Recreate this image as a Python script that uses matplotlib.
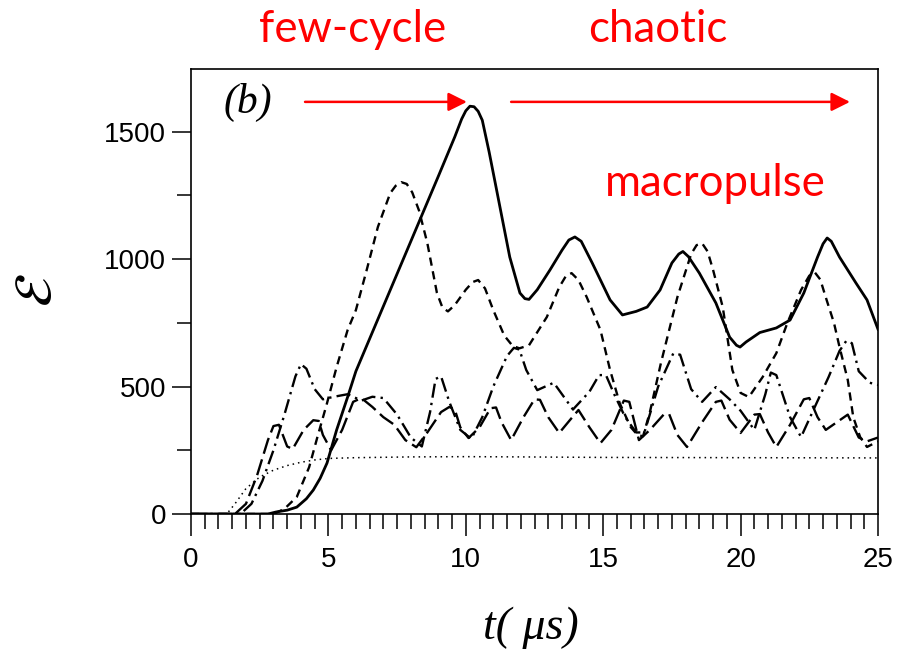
import matplotlib
matplotlib.use('Agg')
import matplotlib.pyplot as plt
from matplotlib.ticker import MultipleLocator

# solid curve
t_solid = [0, 2.8, 3.1, 3.5, 3.85, 4.2, 4.45, 4.7, 4.95, 5.3, 5.7, 6.0, 7.0, 8.0, 9.0, 9.6, 9.85,
           10.0, 10.15, 10.3, 10.45, 10.6, 10.85, 11.1, 11.6, 11.97, 12.15, 12.3, 12.6, 13.06,
           13.5, 13.75, 13.97, 14.2, 14.6, 15.25, 15.7, 16.2, 16.6, 17.07, 17.5, 17.75, 17.9,
           18.1, 18.5, 19.1, 19.6, 19.85, 19.98, 20.2, 20.7, 21.3, 21.8, 22.3, 22.8, 23.0,
           23.15, 23.3, 23.6, 24.2, 24.6, 25.0]
e_solid = [0, 0, 8, 15, 27, 60, 94, 140, 200, 330, 459, 560, 815, 1070, 1325, 1480, 1550,
           1582, 1600, 1598, 1580, 1545, 1420, 1283, 1008, 867, 845, 842, 880, 957,
           1035, 1075, 1087, 1070, 985, 840, 781, 795, 812, 879, 985, 1020, 1030,
           1010, 945, 828, 694, 662, 655, 675, 712, 730, 761, 867, 1008, 1060,
           1083, 1070, 1008, 906, 840, 725]

# short-dash curve
t_dash = [0, 3.0, 3.4, 3.85, 4.3, 4.6, 4.95, 5.3, 5.7, 6.0, 6.4, 6.8, 7.25, 7.45, 7.65, 7.85,
          8.05, 8.3, 8.6, 8.95, 9.15, 9.35, 9.6, 10.0, 10.25, 10.45, 10.7, 11.0, 11.4, 11.7,
          11.95, 12.3, 12.95, 13.4, 13.65, 13.85, 14.1, 14.4, 14.9, 15.25, 15.6, 16.0, 16.25,
          16.45, 16.7, 17.1, 17.7, 18.2, 18.4, 18.6, 18.8, 19.0, 19.35, 19.7, 20.0, 20.3,
          20.8, 21.3, 21.7, 22.2, 22.5, 22.7, 22.9, 23.1, 23.4, 23.6, 23.9, 24.1, 24.35,
          24.6, 25.0]
e_dash = [0, 0, 20, 67, 184, 302, 435, 577, 722, 800, 960, 1126, 1259, 1288, 1302, 1295,
          1262, 1190, 1063, 867, 810, 795, 820, 880, 910, 918, 885, 800, 700, 660,
          650, 662, 773, 890, 935, 945, 918, 851, 722, 565, 435, 341, 310,
          305, 400, 592, 851, 1020, 1055, 1062, 1030, 957, 812, 565, 475, 459,
          537, 631, 749, 879, 935, 948, 920, 850, 749, 655, 526, 380, 302,
          263, 285]

# dash-dot curve
t_dashdot = [0, 1.8, 2.2, 2.6, 3.0, 3.4, 3.8, 4.0, 4.2, 4.5, 4.8, 5.2, 5.7, 6.2, 6.6, 7.0, 7.5,
             8.0, 8.4, 8.7, 8.9, 9.1, 9.4, 9.8, 10.2, 10.6, 11.0, 11.5, 11.75, 11.95, 12.2,
             12.6, 13.2, 13.9, 14.5, 14.85, 15.1, 15.4, 15.8, 16.2, 16.5, 17.0, 17.55, 17.8,
             18.2, 18.6, 19.1, 19.6, 20.0, 20.5, 20.9, 21.1, 21.3, 21.8, 22.2, 22.7, 23.2,
             23.6, 23.85, 24.05, 24.3, 24.7, 25.0]
e_dashdot = [0, 0, 40, 130, 250, 390, 540, 588, 570, 490, 450, 460, 470, 445, 460, 455, 390,
             300, 265, 400, 530, 540, 440, 330, 295, 380, 500, 620, 652, 645, 565,
             486, 515, 410, 480, 545, 545, 470, 380, 320, 320, 500, 630, 625,
             490, 440, 498, 450, 405, 330, 470, 555, 545, 380, 302, 420, 537,
             640, 680, 670, 560, 515, 506]

# long-dash curve
t_longdash = [0, 1.6, 2.0, 2.4, 2.8, 3.0, 3.2, 3.5, 3.7, 4.1, 4.45, 4.65, 4.8, 5.1, 5.5, 5.9,
              6.2, 6.6, 7.0, 7.4, 7.8, 8.2, 8.6, 9.1, 9.4, 9.6, 9.8, 10.1, 10.5, 10.9, 11.1,
              11.3, 11.65, 12.1, 12.5, 12.7, 13.0, 13.4, 13.8, 14.1, 14.5, 14.9, 15.3, 15.75,
              15.95, 16.3, 16.7, 17.2, 17.4, 17.7, 18.05, 18.6, 19.1, 19.3, 19.6, 20.0, 20.5,
              20.7, 21.0, 21.3, 21.8, 22.3, 22.5, 22.8, 23.1, 23.5, 23.9, 24.3, 24.6, 25.0]
e_longdash = [0, 0, 40, 150, 290, 345, 350, 265, 255, 330, 368, 365, 310, 250, 330, 440,
              455, 420, 380, 350, 290, 262, 320, 400, 420, 410, 340, 298, 340, 415, 418,
              360, 290, 380, 450, 448, 380, 318, 370, 408, 340, 278, 330, 445,
              440, 290, 330, 390, 392, 310, 263, 360, 440, 445, 370, 318, 390,
              392, 320, 263, 350, 450, 455, 380, 330, 360, 390, 300, 285, 300]

# dotted curve
t_dot = [0, 1.3, 1.6, 2.0, 2.5, 3.0, 3.5, 4.0, 4.5, 5.0, 6.0, 8.0, 10.0, 12.0, 15.0, 20.0, 25.0]
e_dot = [0, 0, 40, 100, 145, 172, 190, 203, 212, 218, 221, 224, 225, 224, 222, 221, 220]

W, H = 901, 650
fig = plt.figure(figsize=(W / 100, H / 100), dpi=100)
ax = fig.add_axes([191 / W, 1 - 514 / H, (878 - 191) / W, (514 - 69) / H])

lw = 1.7
ax.plot(t_solid, e_solid, color='black', lw=2.0, solid_joinstyle='round')
ax.plot(t_dash, e_dash, color='black', lw=lw, linestyle=(0, (3.5, 2.4)))
ax.plot(t_dashdot, e_dashdot, color='black', lw=lw, linestyle=(0, (6, 2.2, 1, 2.2)))
ax.plot(t_longdash, e_longdash, color='black', lw=lw, linestyle=(0, (7, 2.5)))
ax.plot(t_dot, e_dot, color='black', lw=1.1, linestyle=(0, (1, 2.6)))

ax.set_xlim(0, 25)
ax.set_ylim(0, 1746)
ax.xaxis.set_major_locator(MultipleLocator(5))
ax.xaxis.set_minor_locator(MultipleLocator(0.5))
ax.yaxis.set_major_locator(MultipleLocator(500))
ax.yaxis.set_minor_locator(MultipleLocator(250))
ax.tick_params(axis='x', which='major', direction='out', length=16, width=1.1, pad=8)
ax.tick_params(axis='x', which='minor', direction='out', length=11, width=1.1)
ax.tick_params(axis='y', which='major', direction='out', length=14, width=1.1, pad=4)
ax.tick_params(axis='y', which='minor', direction='out', length=10, width=1.1)
for lab in ax.get_xticklabels() + ax.get_yticklabels():
    lab.set_fontfamily('Liberation Sans')
    lab.set_fontsize(20)
for sp in ax.spines.values():
    sp.set_linewidth(1.2)

ax.text(0.048, 0.925, '(b)', transform=ax.transAxes, fontfamily='Liberation Serif',
        style='italic', fontsize=30, ha='left', va='center')

fig.text(531 / W, 1 - 628 / H, 't( μs)', fontfamily='Liberation Serif', style='italic',
         fontsize=33, ha='center', va='center')
fig.text(37 / W, 1 - 290 / H, r'$\mathcal{E}$', math_fontfamily='stix', fontsize=38,
         rotation=90, ha='center', va='center')

red = '#ff0000'
fig.text(353 / W, 1 - 30 / H, 'few-cycle', color=red, fontfamily='Lato', fontsize=31.5,
         ha='center', va='center')
fig.text(658 / W, 1 - 30 / H, 'chaotic', color=red, fontfamily='Lato', fontsize=31.5,
         ha='center', va='center')
fig.text(715 / W, 1 - 183 / H, 'macropulse', color=red, fontfamily='Lato', fontsize=31.5,
         ha='center', va='center')

arrow = dict(arrowstyle='-|>', color=red, lw=1.8, mutation_scale=28, shrinkA=0, shrinkB=0)
ax.annotate('', xy=(10.04, 1617), xytext=(4.15, 1617), arrowprops=arrow)
ax.annotate('', xy=(23.98, 1617), xytext=(11.65, 1617), arrowprops=arrow)

fig.savefig('out.png', dpi=100)
